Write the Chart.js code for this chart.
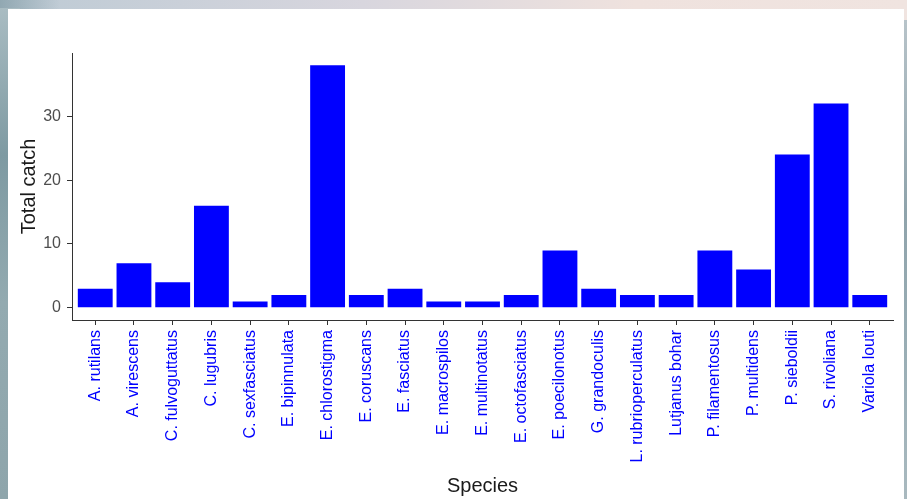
<!DOCTYPE html>
<html>
<head>
<meta charset="utf-8">
<script src="https://cdn.jsdelivr.net/npm/chart.js@4.4.1/dist/chart.umd.min.js"></script>
<style>
  html, body { margin: 0; padding: 0; }
  body {
    width: 907px; height: 499px; overflow: hidden; position: relative;
    background:
      linear-gradient(to right, rgba(110,140,150,0.55) 0px, rgba(110,140,150,0) 60px),
      linear-gradient(to right, #bccad4 0%, #d8d6de 40%, #efe2de 70%, #f0e4e0 100%);
  }
  #edgeRight {
    position: absolute; left: 880px; top: 20px; width: 27px; height: 479px;
    background: linear-gradient(to bottom, #b7c3c9, #8fa3ab 40%, #9aaeb5 70%, #a9b9bf);
  }
  #edgeLeft {
    position: absolute; left: 0; top: 8px; width: 20px; height: 491px;
    background: linear-gradient(to bottom, #a9bcc2, #7e9aa2 30%, #93aab0 60%, #8ea5ab);
  }
  #panel {
    position: absolute; left: 8px; top: 9px; width: 896px; height: 490px;
    background: #ffffff;
  }
  #wrap { position: absolute; left: 0; top: 0; width: 907px; height: 499px; }
</style>
</head>
<body>
<div id="edgeLeft"></div>
<div id="edgeRight"></div>
<div id="panel"></div>
<div id="wrap"><canvas id="chart" width="907" height="499"></canvas></div>
<script>
// Total catch per species
const species = [
  'A. rutilans', 'A. virescens', 'C. fulvoguttatus', 'C. lugubris', 'C. sexfasciatus',
  'E. bipinnulata', 'E. chlorostigma', 'E. coruscans', 'E. fasciatus', 'E. macrospilos',
  'E. multinotatus', 'E. octofasciatus', 'E. poecilonotus', 'G. grandoculis',
  'L. rubrioperculatus', 'Lutjanus bohar', 'P. filamentosus', 'P. multidens',
  'P. sieboldii', 'S. rivoliana', 'Variola louti'
];
const totalCatch = [3, 7, 4, 16, 1, 2, 38, 2, 3, 1, 1, 2, 9, 3, 2, 2, 9, 6, 24, 32, 2];
const yTickValues = [0, 10, 20, 30];

const FONT = "'Liberation Sans', Arial, Helvetica, sans-serif";
const AXIS_COLOR = '#333333';

const points = species.map((name, i) => ({ x: i, y: totalCatch[i] }));

new Chart(document.getElementById('chart'), {
  type: 'bar',
  data: {
    datasets: [{
      data: points,
      backgroundColor: '#0000FF',
      borderWidth: 0,
      barPercentage: 0.9,
      categoryPercentage: 1.0
    }]
  },
  options: {
    responsive: false,
    animation: false,
    layout: { padding: { top: 53, right: 14, bottom: 0, left: 0 } },
    plugins: { legend: { display: false }, tooltip: { enabled: false } },
    scales: {
      x: {
        type: 'linear',
        offset: false,
        min: -0.6,
        max: species.length - 1 + 0.6,
        afterBuildTicks: (scale) => { scale.ticks = species.map((_, i) => ({ value: i })); },
        afterFit: (scale) => { scale.height = 179; },
        ticks: {
          autoSkip: false,
          minRotation: 90,
          maxRotation: 90,
          padding: 5,
          color: '#0000FF',
          font: { family: FONT, size: 16 },
          callback: (v) => species[v]
        },
        grid: { offset: false, drawOnChartArea: false, drawTicks: true, tickLength: 5, color: AXIS_COLOR, lineWidth: 1 },
        border: { display: true, color: AXIS_COLOR, width: 1 },
        title: {
          display: true,
          text: 'Species',
          color: '#1a1a1a',
          font: { family: FONT, size: 20 },
          padding: { top: 1, bottom: 1 }
        }
      },
      y: {
        type: 'linear',
        min: -1.9,
        max: 39.9,
        afterBuildTicks: (scale) => { scale.ticks = yTickValues.map(v => ({ value: v })); },
        afterFit: (scale) => { scale.width = 72; },
        ticks: {
          padding: 6,
          color: '#4D4D4D',
          font: { family: FONT, size: 16 }
        },
        grid: { drawOnChartArea: false, drawTicks: true, tickLength: 5, color: AXIS_COLOR, lineWidth: 1 },
        border: { display: true, color: AXIS_COLOR, width: 1 },
        title: {
          display: true,
          text: 'Total catch',
          color: '#1a1a1a',
          font: { family: FONT, size: 20 },
          padding: { top: 17, bottom: 17 }
        }
      }
    }
  }
});
</script>
</body>
</html>
